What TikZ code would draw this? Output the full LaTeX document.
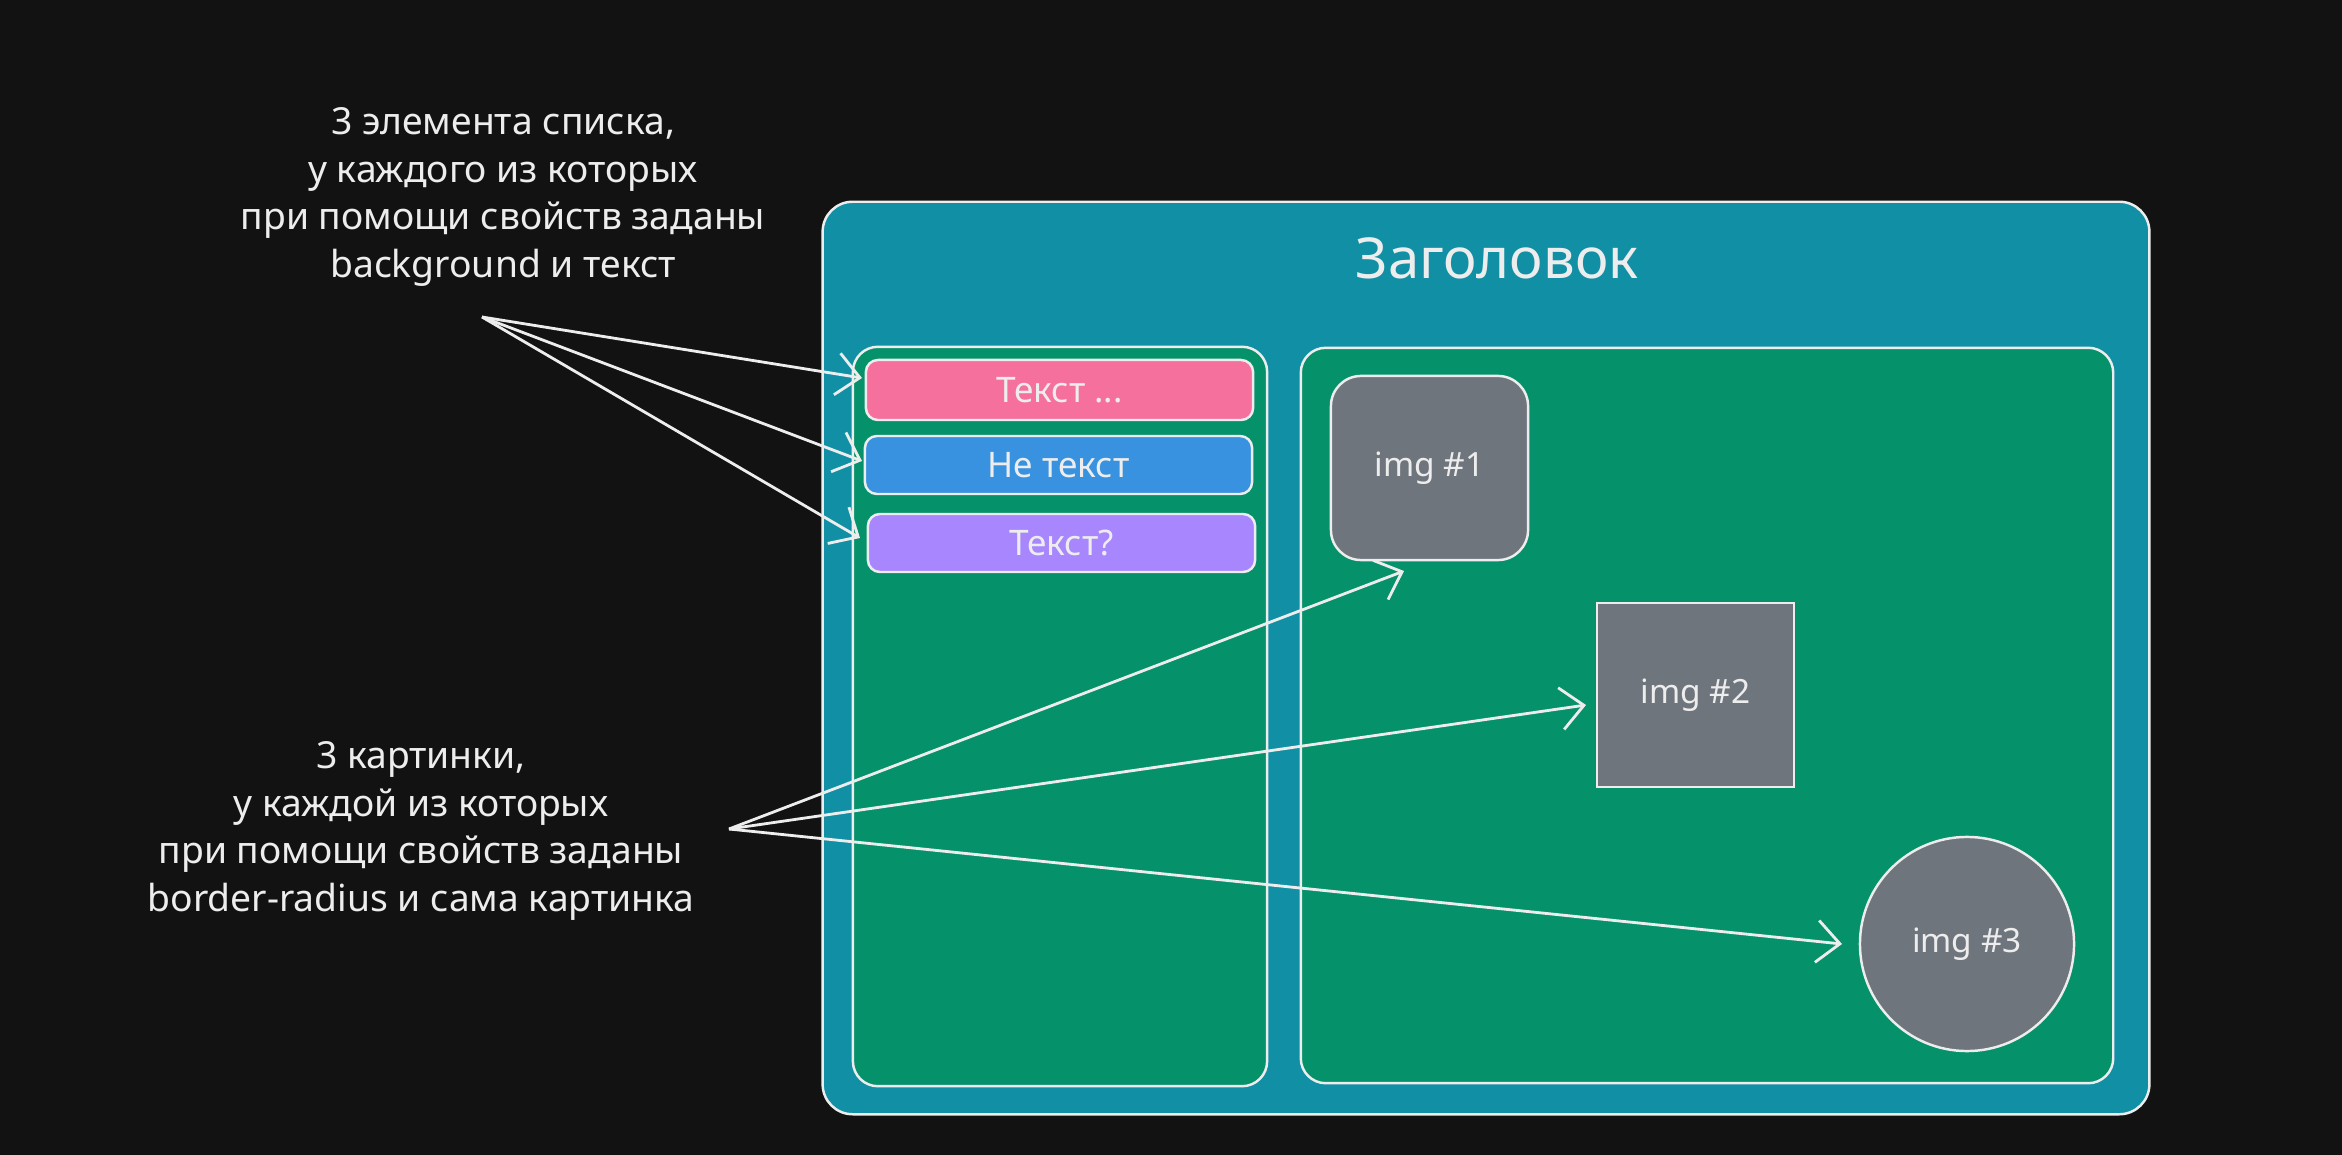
\documentclass[tikz,border=0pt]{standalone}
\usepackage{fontspec}
\setmainfont{Noto Sans}
\usetikzlibrary{arrows.meta}
\definecolor{bg}{HTML}{121212}
\definecolor{tealbox}{HTML}{1190A5}
\definecolor{greenbox}{HTML}{05916A}
\definecolor{pinkitem}{HTML}{F6709E}
\definecolor{blueitem}{HTML}{3892DF}
\definecolor{purpleitem}{HTML}{A886FE}
\definecolor{grayimg}{HTML}{6E757D}
\definecolor{fg}{HTML}{EDEDED}
\tikzset{
  box/.style={draw=fg, line width=0.7pt, inner sep=0pt},
  itembox/.style={box, rounded corners=1.2mm, minimum width=3.87cm, minimum height=0.58cm, text=fg, font=\fontsize{10}{12}\selectfont},
  imgbox/.style={box, fill=grayimg, minimum width=1.97cm, minimum height=1.84cm, text=fg, font=\fontsize{9.5}{11}\selectfont},
  note/.style={text=fg, align=center, font=\fontsize{10.6}{13.6}\selectfont},
  arr/.style={draw=fg, line width=0.8pt, -{Straight Barb[length=2.3mm,width=4.2mm]}}
}
\begin{document}
\begin{tikzpicture}[x=0.01cm,y=-0.01cm]
\useasboundingbox (0,0) rectangle (2342,1155);
\fill[bg] (0,0) rectangle (2342,1155);

% outer container
\node[box, fill=tealbox, rounded corners=3mm, minimum width=13.26cm, minimum height=9.12cm] (outer) at (1486,658) {};
\node[text=fg, font=\fontsize{16}{19}\selectfont] (title) at (1497,258) {Заголовок};

% inner boxes
\node[box, fill=greenbox, rounded corners=2.5mm, minimum width=4.14cm, minimum height=7.39cm] (list) at (1060,716.5) {};
\node[box, fill=greenbox, rounded corners=2.5mm, minimum width=8.12cm, minimum height=7.35cm] (imgs) at (1707,715.5) {};

% list items
\node[itembox, fill=pinkitem, minimum height=0.60cm] (item1) at (1059.5,390) {Текст ...};
\node[itembox, fill=blueitem] (item2) at (1058.5,465) {Не текст};
\node[itembox, fill=purpleitem] (item3) at (1061.5,543) {Текст?};

% images
\node[imgbox, rounded corners=3mm] (img1) at (1429.5,468) {img \#1};
\node[imgbox] (img2) at (1695.5,695) {img \#2};
\node[box, fill=grayimg, circle, minimum size=2.14cm, text=fg, font=\fontsize{9.5}{11}\selectfont] (img3) at (1967,944) {img \#3};

% annotations
\node[note] (note1) at (503,197) {3 элемента списка,\\у каждого из которых\\при помощи свойств заданы\\background и текст};
\node[note] (note2) at (421,831) {3 картинки,\\у каждой из которых\\при помощи свойств заданы\\border-radius и сама картинка};

% arrow anchor points
\coordinate (s1) at (482,317);
\coordinate (s2) at (729,829);
\coordinate (t1) at (862,378);
\coordinate (t2) at (862,461);
\coordinate (t3) at (860,538);
\coordinate (u1) at (1404,571);
\coordinate (u2) at (1586,705);
\coordinate (u3) at (1842,944);

\draw[arr] (s1) -- (t1);
\draw[arr] (s1) -- (t2);
\draw[arr] (s1) -- (t3);
\draw[arr] (s2) -- (u1);
\draw[arr] (s2) -- (u2);
\draw[arr] (s2) -- (u3);
\end{tikzpicture}
\end{document}
